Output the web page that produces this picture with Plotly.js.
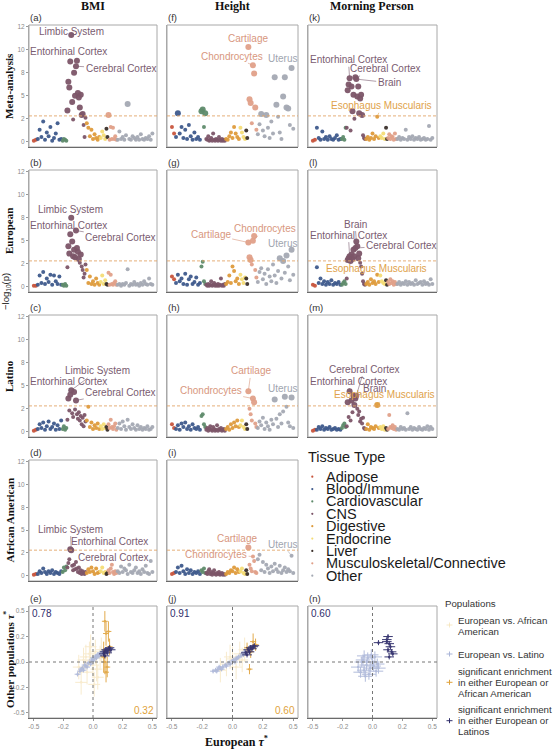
<!DOCTYPE html>
<html><head><meta charset="utf-8">
<script src="https://cdn.plot.ly/plotly-3.0.1.min.js"></script>
<style>html,body{margin:0;padding:0;background:#fff;}#chart{width:554px;height:749px;}</style>
</head><body><div id="chart"></div>
<script>
// ---------------- DATA ----------------
const categories = ["Adipose","Blood/Immune","Cardiovascular","CNS","Digestive","Endocrine","Liver","Musculoskeletal/Connective","Other"];
const catCounts  = [2,14,4,20,9,4,2,8,22];
const catColors  = ["#C8553D","#3E5A8C","#5F8B6B","#7C5568","#DE9B3C","#F4DC76","#3B302B","#E0A089","#A4A9B3"];
const traitTitles = ["BMI","Height","Morning Person"];
const rowTitles = ["Meta-analysis","European","Latino","African American"];
// named tissues: [category index, position within category]
const namedTissues = {"Entorhinal Cortex":[3,3],"Limbic System":[3,4],"Cerebral Cortex":[3,9],"Brain":[3,10],
  "Esophagus Muscularis":[4,7],"Cartilage":[7,0],"Chondrocytes":[7,4],"Uterus":[8,20]};
const yTickVals = [0,2.5,5,7.5,10,12.5];
const yTickText = ["0","2","5","8","10","12"];
const threshold = 2.8;

// -log10(p) per tissue (order: Adipose, Blood, Cardio, CNS, Digestive, Endocrine, Liver, Musculo, Other)
const bmiMeta = [0.1,0.2, 0.3,1.3,0.5,2.2,0.2,1.0,0.6,1.6,0.1,0.4,0.9,2.0,0.2,0.3, 0.1,0.3,0.2,0.1,
 3.4,6.5,5.9,8.7,11.6,4.3,2.4,7.5,5.0,8.2,8.8,5.3,4.8,3.7,5.1,2.9,3.0,1.8,0.5,2.6,
 2.0,1.5,0.6,1.3,0.3,0.8,0.4,0.2,0.5, 0.4,1.1,0.7,0.3, 1.4,0.5, 2.9,0.2,1.6,0.3,1.5,0.3,0.6,0.2,
 0.2,1.1,0.3,0.5,0.2,0.7,4.1,0.3,0.2,0.6,0.4,0.2,0.5,0.2,0.8,0.3,0.2,0.4,0.3,0.6,0.2,0.9];
const bmiEur = [0.1,0.1, 0.2,1.2,0.4,1.6,0.3,0.9,0.5,1.3,0.2,1.2,0.6,0.3,1.1,0.2, 0.2,0.1,0.3,0.1,
 2.1,4.4,3.6,5.7,7.5,4.9,3.3,4.0,3.2,6.1,4.2,3.8,3.0,2.6,3.5,2.2,1.8,1.0,1.4,2.4,
 1.8,0.4,1.1,0.3,0.6,0.2,0.9,0.4,0.2, 0.5,1.2,0.3,0.7, 0.3,0.2, 1.5,0.2,1.3,0.3,0.2,0.4,0.6,0.2,
 0.2,0.3,0.1,0.3,0.2,0.4,1.9,0.1,0.3,0.2,0.5,0.2,0.3,0.1,0.4,0.2,0.6,0.3,0.2,0.9,0.3,0.2];
const bmiLat = [0.1,0.2, 0.3,0.8,0.4,1.0,0.2,0.6,1.1,0.3,0.5,0.9,0.2,0.7,0.3,1.2, 0.3,0.6,0.2,0.4,
 1.3,3.6,2.3,4.0,4.5,2.0,1.6,4.3,2.4,3.4,1.9,1.4,2.1,1.2,1.7,0.8,1.5,0.6,1.8,1.1,
 1.2,2.7,0.5,1.0,0.3,0.7,0.4,0.9,0.3, 0.6,0.3,0.8,0.4, 0.5,0.2, 0.8,0.4,1.3,0.5,0.3,0.6,0.9,0.2,
 0.4,0.9,0.3,1.1,0.6,0.2,1.3,0.5,0.3,0.8,0.4,0.2,0.7,0.3,0.5,0.2,0.4,0.3,0.6,0.2,0.3,0.5];
const bmiAfr = [0.1,0.2, 0.2,0.5,0.3,0.8,0.4,0.2,0.5,0.3,0.6,0.2,0.4,0.3,0.2,0.5, 0.4,0.9,0.6,1.0,
 0.9,1.4,1.8,2.9,2.8,1.1,0.6,1.2,0.7,1.5,0.8,0.4,0.9,0.3,0.6,0.2,0.5,0.3,0.2,0.4,
 0.3,0.7,0.4,0.9,0.5,0.2,0.8,0.3,0.4, 0.5,0.9,0.3,0.4, 0.2,0.3, 0.6,0.3,0.8,1.2,0.4,0.2,0.5,0.3,
 0.5,0.3,1.0,0.4,0.8,0.6,0.2,1.2,0.4,0.3,0.6,0.9,0.3,0.5,0.2,0.7,0.4,1.1,0.3,0.2,1.6,0.4];
const heightMeta = [1.6,0.9, 0.5,3.1,0.9,1.6,0.4,1.3,0.3,1.8,0.6,0.2,1.0,0.3,0.5,0.2, 3.3,3.5,1.6,3.1,
 0.3,0.2,0.6,0.1,0.2,0.4,0.1,0.9,0.2,0.1,0.3,0.2,0.1,0.5,0.2,0.1,0.3,0.1,0.2,0.1,
 0.3,0.2,0.6,1.0,0.4,1.6,0.9,0.5,0.3, 1.5,1.0,0.5,0.3, 1.2,0.4, 10.3,4.6,4.2,2.0,8.3,7.4,3.7,1.3,
 0.8,1.9,3.0,1.2,0.6,2.9,1.5,0.4,2.2,0.9,7.0,4.0,2.7,1.0,0.3,4.9,7.0,3.7,3.6,1.8,8.0,1.4];
const heightEur = [1.1,0.8, 0.4,1.3,0.6,0.9,0.3,1.4,0.2,0.8,1.1,0.3,0.5,1.0,0.2,0.4, 2.2,2.7,0.6,0.3,
 0.2,0.1,0.3,0.1,0.2,0.6,0.1,0.2,0.4,0.1,0.2,0.1,0.3,0.1,0.2,0.9,0.1,0.2,0.1,0.3,
 0.3,0.5,1.2,0.4,2.2,1.7,0.6,0.9,0.3, 1.3,0.8,0.4,1.0, 0.9,0.3, 4.8,3.2,2.9,2.4,5.0,5.5,1.8,1.0,
 0.5,1.6,2.0,0.8,1.4,0.3,1.9,1.1,0.6,2.4,1.2,0.4,1.7,3.1,0.9,2.8,1.5,3.4,2.2,0.7,4.0,1.3];
const heightLat = [0.8,0.4, 0.3,0.7,0.2,0.9,0.5,1.0,0.3,0.6,0.2,0.8,0.4,0.3,0.5,0.2, 1.7,1.9,0.8,0.5,
 0.2,0.4,0.1,0.3,0.6,0.2,0.1,0.5,0.3,0.1,0.2,0.7,0.1,0.3,0.2,0.4,0.1,0.2,0.3,0.1,
 0.3,0.5,0.2,0.8,0.4,1.0,0.6,1.2,0.5, 0.7,1.2,0.5,0.3, 0.8,0.3, 4.4,2.5,1.9,1.2,3.6,3.2,0.9,0.5,
 0.4,1.1,0.7,1.5,0.3,1.0,0.6,0.2,1.3,0.8,3.5,1.4,0.5,1.9,0.9,2.2,3.8,2.7,1.0,0.6,3.7,0.4];
const heightAfr = [0.2,0.3, 0.4,0.9,0.3,1.1,0.5,0.2,0.7,0.3,0.6,0.2,0.4,0.3,0.5,0.2, 0.6,0.4,0.8,0.3,
 0.3,0.2,0.5,0.7,0.2,0.4,0.1,0.3,0.6,0.2,0.1,0.3,0.2,0.4,0.1,0.2,0.3,0.1,0.2,0.1,
 0.2,0.4,0.3,0.6,0.5,0.9,0.3,0.7,0.4, 0.5,0.8,0.3,0.2, 0.6,0.2, 3.1,1.2,0.8,0.5,2.1,1.6,0.4,0.3,
 1.8,2.3,0.6,1.5,0.4,1.2,0.8,0.3,1.0,0.5,1.3,0.7,0.4,1.1,0.3,0.6,0.9,0.4,0.7,0.5,2.2,0.3];
const mornMeta = [0.1,0.2, 1.5,0.4,0.2,1.1,0.3,0.5,0.2,0.6,0.3,0.2,0.4,0.7,0.2,0.3, 0.3,0.5,0.2,1.5,
 1.5,5.6,6.2,6.9,1.2,6.0,3.3,5.1,2.5,7.0,6.8,4.9,6.0,3.1,4.7,5.1,2.9,0.7,0.4,0.3,
 0.3,0.5,0.2,0.4,0.9,0.3,0.6,2.7,0.4, 0.6,0.4,0.9,0.3, 1.5,0.3, 0.4,0.8,0.3,0.6,0.5,0.2,0.9,0.3,
 0.3,0.5,0.2,0.4,0.3,1.3,0.2,0.5,0.3,0.6,0.2,0.4,0.3,0.5,0.2,0.3,0.4,0.2,0.3,1.7,0.2,0.4];
const mornEur = [0.2,0.1, 2.1,0.4,0.9,0.3,0.6,0.2,0.5,0.3,0.7,0.2,0.4,0.3,0.5,0.2, 0.2,0.4,0.6,0.3,
 0.9,2.9,3.1,3.3,2.8,3.5,3.0,4.0,3.3,4.2,4.9,4.4,3.1,3.6,2.6,2.2,1.4,0.6,0.3,0.2,
 0.3,0.5,0.2,0.8,0.4,0.6,0.3,1.3,0.5, 1.2,0.6,0.4,0.3, 0.7,0.2, 0.5,0.3,0.8,0.4,0.6,0.2,0.5,0.3,
 0.3,0.5,0.2,0.4,0.3,0.6,0.2,0.5,0.3,0.4,0.2,0.7,0.3,0.4,0.5,0.2,0.6,0.3,0.4,0.2,0.8,0.3];
const mornLat = [0.1,0.2, 0.2,0.5,0.3,0.6,0.2,0.4,0.3,0.5,0.2,0.3,0.4,0.2,0.3,0.2, 0.4,0.7,0.9,0.5,
 0.6,3.2,1.6,4.4,1.2,3.4,2.1,3.9,2.9,3.6,3.9,2.5,1.8,2.2,1.1,1.4,0.9,1.5,0.4,0.3,
 0.3,0.8,0.2,0.5,0.4,0.3,0.6,2.9,0.4, 0.5,0.3,0.6,0.2, 0.4,0.2, 0.3,1.8,0.5,0.4,0.7,0.3,0.5,0.2,
 0.3,0.2,0.5,0.3,0.4,0.2,2.0,0.3,0.5,0.2,0.4,0.3,0.2,0.5,0.3,0.2,0.4,0.3,0.6,0.2,0.5,0.3];

// tau* comparisons (European on x, other population on y)
const bmiTauLatX = [-0.13,-0.11,-0.10,-0.09,-0.08,-0.06,-0.05,-0.04,-0.02,-0.01,0.00,0.01,0.02,0.03,0.04,0.05,0.06,0.07,0.08,-0.07,0.00,0.03];
const bmiTauLatY = [-0.12,-0.09,-0.07,-0.06,-0.08,-0.04,-0.05,-0.01,-0.02,0.02,0.01,0.03,0.05,0.04,0.07,0.06,0.09,0.08,0.10,-0.03,0.04,0.06];
const bmiTauSigLatX = [0.09,0.10,0.11,0.12,0.13,0.14,0.10,0.12,0.15];
const bmiTauSigLatY = [0.08,0.10,0.12,0.11,0.13,0.14,0.06,0.09,0.12];
const bmiTauAfrX = [-0.12,-0.08,-0.05,-0.03,0.00,0.02,0.04,0.06,-0.10,-0.02,0.03,0.07,-0.06,0.01];
const bmiTauAfrY = [-0.05,0.02,-0.10,0.08,-0.03,0.10,-0.15,0.04,-0.20,0.15,-0.07,0.12,0.05,-0.22];
const bmiTauSigAfrX = [0.10,0.11,0.13,0.09,0.12,0.10,0.14,0.11];
const bmiTauSigAfrY = [0.40,0.28,0.30,0.05,-0.05,0.00,0.15,-0.10];
const bmiTauSigAfrErr = [0.10,0.12,0.10,0.15,0.10,0.12,0.08,0.10];
const heightTauLatX = [-0.16,-0.14,-0.13,-0.12,-0.10,-0.09,-0.08,-0.06,-0.05,-0.03,-0.02,0.00,0.01,0.03,0.04,0.05,0.07,0.08,0.09,0.10,-0.11,0.02];
const heightTauLatY = [-0.09,-0.08,-0.09,-0.07,-0.06,-0.07,-0.05,-0.03,-0.04,-0.01,-0.02,0.01,0.02,0.03,0.04,0.05,0.06,0.08,0.07,0.10,-0.05,0.00];
const heightTauSigLatX = [0.11,0.13,0.14,0.15,0.16,0.17,0.12,0.18];
const heightTauSigLatY = [0.09,0.12,0.10,0.14,0.13,0.15,0.07,0.16];
const heightTauAfrX = [-0.10,-0.05,0.00,0.03,0.06,-0.02,0.08,0.10];
const heightTauAfrY = [-0.08,-0.02,0.03,-0.05,0.08,0.05,0.02,0.12];
const heightTauSigAfrX = [0.14,0.17,0.15,0.12,0.19];
const heightTauSigAfrY = [-0.07,0.20,0.10,0.14,0.17];
const heightTauSigAfrErr = [0.05,0.08,0.06,0.05,0.06];
const mornTauLatX = [-0.12,-0.10,-0.08,-0.07,-0.05,-0.04,-0.03,-0.02,0.00,0.01,0.02,0.03,-0.06,-0.09,0.04,-0.01,-0.07,0.05];
const mornTauLatY = [-0.05,-0.10,0.02,-0.08,-0.03,0.04,-0.12,-0.06,0.00,-0.04,0.05,-0.09,-0.14,0.00,-0.02,0.07,0.06,-0.06];
const mornTauSigLatX = [0.12,0.13,0.14,0.15,0.16,0.13,0.14,0.05,0.12,0.17];
const mornTauSigLatY = [0.20,0.25,0.18,0.15,0.10,0.12,0.05,0.19,0.22,0.08];
const corrLatino = [0.78,0.91,0.60];
const corrAfrAm = [0.32,0.60,null];
const tauTickVals = [-0.5,-0.25,0,0.25,0.5];
const tauTickText = ["-0.5","-0.2","0.0","0.2","0.5"];

// ---------------- LAYOUT HELPERS ----------------
const W=554, H=749;
const colPx=[[29,157],[167,298],[308,437]];
const rowPx=[[25,147],[170,292],[315,437],[460,581],[606,718]];
const catBand=[2.7,16.5,3.2,12.5,9.2,3.9,1.3,5.9,23.8]; // horizontal band width per category
const PX = p => p/W, PY = p => 1 - p/H;
const serif = 'Liberation Serif, Times New Roman, serif';
const sans = 'Liberation Sans, Arial, sans-serif';
const labelColors = {3:'#7A5C70',4:'#E0A24A',7:'#D8977E',8:'#A0A5AF'};

const tissueCat=[], tissueX=[];
{ let s=0; catCounts.forEach((n,c)=>{ for(let j=0;j<n;j++){ tissueCat.push(c); tissueX.push(s+(j+0.5)*catBand[c]/n); } s+=catBand[c]; }); }
function tissueIndex(name){ const [c,j]=namedTissues[name]; let s=0; for(let k=0;k<c;k++) s+=catCounts[k]; return s+j; }

const traces=[], annotations=[], shapes=[];
const layout={width:W,height:H,margin:{l:0,r:0,t:0,b:0},paper_bgcolor:'#fff',plot_bgcolor:'#fff',
  showlegend:false,font:{family:sans},hovermode:false};
let axN=0;
function newAxes(row,col,xa,ya){
  axN++;
  const k = axN===1?'':String(axN);
  layout['xaxis'+k]=Object.assign({domain:[PX(colPx[col][0]),PX(colPx[col][1])],anchor:'y'+k,showgrid:false,zeroline:false,
    showline:true,linecolor:'#6a6a6a',linewidth:1,fixedrange:true},xa);
  layout['yaxis'+k]=Object.assign({domain:[PY(rowPx[row][1]),PY(rowPx[row][0])],anchor:'x'+k,showgrid:false,zeroline:false,
    showline:true,linecolor:'#a8a8a8',linewidth:1,fixedrange:true},ya);
  shapes.push({type:'rect',xref:'x'+k+' domain',yref:'y'+k+' domain',x0:0,x1:1,y0:0,y1:1,line:{color:'#a8a8a8',width:1},layer:'below'});
  return {x:'x'+k,y:'y'+k};
}

// ---------------- MANHATTAN PANELS ----------------
const manhattan=[
 {id:'(a)',row:0,col:0,v:bmiMeta,lab:[['Limbic System',25.7,12.0],['Entorhinal Cortex',23.5,9.8],['Cerebral Cortex',57.9,7.9]]},
 {id:'(b)',row:1,col:0,v:bmiEur,lab:[['Limbic System',24.7,8.4],['Entorhinal Cortex',23.3,6.7],['Cerebral Cortex',57.7,5.3]]},
 {id:'(c)',row:2,col:0,v:bmiLat,lab:[['Limbic System',42.2,6.6],['Entorhinal Cortex',23.3,5.5],['Cerebral Cortex',57.7,4.3]]},
 {id:'(d)',row:3,col:0,v:bmiAfr,lab:[['Limbic System',24.7,5.1],['Entorhinal Cortex',50.6,3.7],['Cerebral Cortex',53.1,2.0]]},
 {id:'(f)',row:0,col:1,v:heightMeta,lab:[['Cartilage',49.4,11.2],['Chondrocytes',39.1,9.3],['Uterus',71.4,9.0]]},
 {id:'(g)',row:1,col:1,v:heightEur,lab:[['Cartilage',25.5,5.7],['Chondrocytes',60.6,6.3],['Uterus',71.4,4.7]]},
 {id:'(h)',row:2,col:1,v:heightLat,lab:[['Cartilage',51.4,6.6],['Chondrocytes',25.5,4.5],['Uterus',71.4,4.7]]},
 {id:'(i)',row:3,col:1,v:heightAfr,lab:[['Cartilage',42.7,4.1],['Chondrocytes',29.0,2.36],['Uterus',71.4,3.45]]},
 {id:'(k)',row:0,col:2,v:mornMeta,lab:[['Entorhinal Cortex',23.8,8.9],['Cerebral Cortex',48.2,7.9],['Brain',50.4,6.4],['Esophagus Muscularis',45.5,3.9]]},
 {id:'(l)',row:1,col:2,v:mornEur,lab:[['Brain',28.2,6.8],['Entorhinal Cortex',23.8,5.6],['Cerebral Cortex',58.4,4.5],['Esophagus Muscularis',42.2,2.0]]},
 {id:'(m)',row:2,col:2,v:mornLat,lab:[['Cerebral Cortex',34.2,6.8],['Entorhinal Cortex',23.8,5.5],['Brain',40.5,4.7],['Esophagus Muscularis',47.6,4.0]]},
];
manhattan.forEach(p=>{
  const a=newAxes(p.row,p.col,{range:[-2.5,81.5],showticklabels:false,ticks:''},
    {range:[-0.58,12.68],tickvals:yTickVals,ticktext:yTickText,showticklabels:p.col===0,ticks:p.col===0?'outside':'',
     ticklen:2,tickcolor:'#999',tickfont:{size:6.5,color:'#8a8a8a'}});
  shapes.push({type:'line',xref:a.x+' domain',x0:0,x1:1,yref:a.y,y0:threshold,y1:threshold,line:{color:'#E2A66A',width:0.9,dash:'3px,2px'}});
  traces.push({type:'scatter',mode:'markers',x:tissueX,y:p.v,xaxis:a.x,yaxis:a.y,cliponaxis:false,hoverinfo:'skip',
    marker:{color:tissueCat.map(c=>catColors[c]),size:p.v.map(v=>v>=threshold?6:4),line:{width:0},opacity:0.95}});
  p.lab.forEach(([name,tx,ty])=>{
    const i=tissueIndex(name), col=labelColors[tissueCat[i]];
    annotations.push({xref:a.x,yref:a.y,x:tissueX[i],y:p.v[i],axref:a.x,ayref:a.y,ax:tx,ay:ty,text:name,showarrow:true,
      arrowhead:0,arrowwidth:0.6,arrowcolor:col,standoff:2,font:{size:10,color:col,family:sans}});
  });
  annotations.push({xref:'paper',yref:'paper',x:PX(colPx[p.col][0]-1),y:PY(rowPx[p.row][0]-8),xanchor:'left',yanchor:'middle',
    text:p.id,showarrow:false,font:{size:9.5,color:'#333',family:sans}});
});

// ---------------- TAU* PANELS ----------------
const latC='#AAB5D8', navy='#2F2D6B', orange='#E0A23A', beige='#F0CF86';
function errTrace(a,xs,ys,ex,ey,color,op){
  const e=v=>Array.isArray(v)?{type:'data',array:v}:{type:'constant',value:v};
  return {type:'scatter',mode:'markers',x:xs,y:ys,xaxis:a.x,yaxis:a.y,hoverinfo:'skip',opacity:op,
    marker:{color,size:2.5},error_x:Object.assign(e(ex),{color,thickness:1,width:0}),
    error_y:Object.assign(e(ey),{color,thickness:1,width:0})};
}
const tauPanels=[
 {id:'(e)',col:0,latX:bmiTauLatX,latY:bmiTauLatY,sLX:bmiTauSigLatX,sLY:bmiTauSigLatY,afX:bmiTauAfrX,afY:bmiTauAfrY,
  sAX:bmiTauSigAfrX,sAY:bmiTauSigAfrY,sAE:bmiTauSigAfrErr,le:0.025},
 {id:'(j)',col:1,latX:heightTauLatX,latY:heightTauLatY,sLX:heightTauSigLatX,sLY:heightTauSigLatY,afX:heightTauAfrX,afY:heightTauAfrY,
  sAX:heightTauSigAfrX,sAY:heightTauSigAfrY,sAE:heightTauSigAfrErr,le:0.025},
 {id:'(n)',col:2,latX:mornTauLatX,latY:mornTauLatY,sLX:mornTauSigLatX,sLY:mornTauSigLatY,afX:[],afY:[],sAX:[],sAY:[],sAE:[],le:0.06},
];
tauPanels.forEach((p,ci)=>{
  const a=newAxes(4,p.col,{range:[-0.54,0.54],tickvals:tauTickVals,ticktext:tauTickText,ticks:'outside',ticklen:2,tickcolor:'#999',
      tickfont:{size:6.5,color:'#8a8a8a'}},
    {range:[-0.55,0.55],tickvals:tauTickVals,ticktext:tauTickText,showticklabels:p.col===0,ticks:p.col===0?'outside':'',ticklen:2,
      tickcolor:'#999',tickfont:{size:6.5,color:'#8a8a8a'}});
  shapes.push({type:'line',xref:a.x,x0:0,x1:0,yref:a.y+' domain',y0:0,y1:1,line:{color:'#777',width:1,dash:'dot'}});
  shapes.push({type:'line',yref:a.y,y0:0,y1:0,xref:a.x+' domain',x0:0,x1:1,line:{color:'#777',width:1,dash:'dot'}});
  if(p.afX.length) traces.push(errTrace(a,p.afX,p.afY,0.05,0.12,beige,0.4));
  traces.push(errTrace(a,p.latX,p.latY,p.le,p.le*0.9,latC,0.9));
  if(p.sAX.length) traces.push(errTrace(a,p.sAX,p.sAY,0.025,p.sAE,orange,0.9));
  traces.push(errTrace(a,p.sLX,p.sLY,0.04,0.025,navy,0.95));
  annotations.push({xref:a.x+' domain',yref:a.y+' domain',x:0.01,y:1.0,xanchor:'left',yanchor:'top',showarrow:false,
    text:corrLatino[ci].toFixed(2),font:{size:10,color:navy,family:sans}});
  if(corrAfrAm[ci]!==null) annotations.push({xref:a.x+' domain',yref:a.y+' domain',x:0.99,y:0.0,xanchor:'right',yanchor:'bottom',showarrow:false,
    text:corrAfrAm[ci].toFixed(2),font:{size:10,color:orange,family:sans}});
  annotations.push({xref:'paper',yref:'paper',x:PX(colPx[p.col][0]-1),y:PY(rowPx[4][0]-8),xanchor:'left',yanchor:'middle',
    text:p.id,showarrow:false,font:{size:9.5,color:'#333',family:sans}});
});

// ---------------- TITLES ----------------
const colCenters=[93,232,372];
traitTitles.forEach((t,i)=>annotations.push({xref:'paper',yref:'paper',x:PX(colCenters[i]),y:PY(6.5),text:'<b>'+t+'</b>',showarrow:false,
  xanchor:'center',yanchor:'middle',font:{size:12,family:serif,color:'#111'}}));
rowTitles.forEach((t,i)=>annotations.push({xref:'paper',yref:'paper',x:PX(9),y:PY((rowPx[i][0]+rowPx[i][1])/2),text:'<b>'+t+'</b>',
  showarrow:false,textangle:-90,xanchor:'center',yanchor:'middle',font:{size:11,family:serif,color:'#111'}}));
annotations.push({xref:'paper',yref:'paper',x:PX(9),y:PY(660),text:'<b>Other populations <i>τ</i><sup>*</sup></b>',showarrow:false,
  textangle:-90,xanchor:'center',yanchor:'middle',font:{size:11,family:serif,color:'#111'}});
annotations.push({xref:'paper',yref:'paper',x:PX(236),y:PY(741),text:'<b>European <i>τ</i><sup>*</sup></b>',showarrow:false,
  xanchor:'center',yanchor:'middle',font:{size:12,family:serif,color:'#111'}});
annotations.push({xref:'paper',yref:'paper',x:PX(6),y:PY(292),text:'−log<sub>10</sub>(p)',showarrow:false,textangle:-90,
  xanchor:'center',yanchor:'middle',font:{size:9.5,family:sans,color:'#222'}});

// ---------------- TISSUE LEGEND ----------------
annotations.push({xref:'paper',yref:'paper',x:PX(306),y:PY(457),xanchor:'left',yanchor:'middle',text:'Tissue Type',showarrow:false,
  font:{size:14.5,color:'#1a1a1a',family:sans}});
categories.forEach((c,i)=>{
  const yc=476.7+i*12.37;
  annotations.push({xref:'paper',yref:'paper',x:PX(323.5),y:PY(yc),xanchor:'left',yanchor:'middle',text:c,showarrow:false,
    font:{size:14.5,color:'#1a1a1a',family:sans}});
  shapes.push({type:'circle',xref:'paper',yref:'paper',x0:PX(311.2),x1:PX(313.4),y0:PY(yc+1.1),y1:PY(yc-1.1),
    fillcolor:catColors[i],line:{width:0}});
});

// ---------------- POPULATIONS LEGEND ----------------
annotations.push({xref:'paper',yref:'paper',x:PX(443),y:PY(603.3),xanchor:'left',yanchor:'middle',text:'Populations',showarrow:false,
  font:{size:9.7,color:'#333',family:sans}});
const popItems=[
  {lines:['European vs. African','American'],y0:620.7,my:625,color:'#F3DDA6',op:0.6},
  {lines:['European vs. Latino'],y0:654,my:654,color:latC,op:1},
  {lines:['significant enrichment','in either European or','African American'],y0:671.7,my:682.3,color:orange,op:1},
  {lines:['significant enrichment','in either European or','Latinos'],y0:709.3,my:720.7,color:navy,op:1},
];
popItems.forEach(it=>{
  it.lines.forEach((l,k)=>annotations.push({xref:'paper',yref:'paper',x:PX(456),y:PY(it.y0+k*11),xanchor:'left',yanchor:'middle',
    text:l,showarrow:false,font:{size:9.7,color:'#333',family:sans}}));
  shapes.push({type:'line',xref:'paper',yref:'paper',x0:PX(446.5),x1:PX(452.5),y0:PY(it.my),y1:PY(it.my),line:{color:it.color,width:1},opacity:it.op});
  shapes.push({type:'line',xref:'paper',yref:'paper',x0:PX(449.5),x1:PX(449.5),y0:PY(it.my-2.5),y1:PY(it.my+2.5),line:{color:it.color,width:1},opacity:it.op});
});

layout.annotations=annotations; layout.shapes=shapes;
Plotly.newPlot('chart',traces,layout,{staticPlot:true,displayModeBar:false});
</script></body></html>
